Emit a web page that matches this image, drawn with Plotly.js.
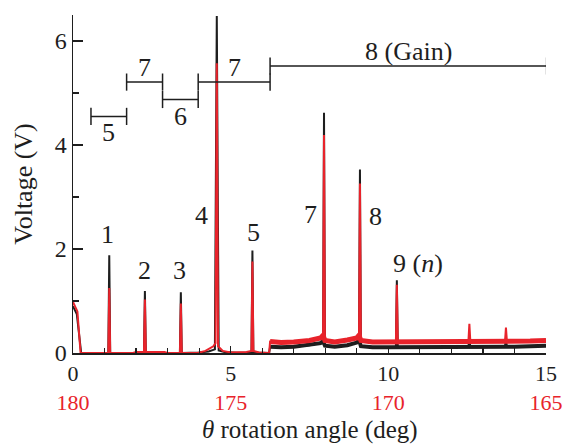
<!DOCTYPE html>
<html>
<head>
<meta charset="utf-8">
<script src="https://cdn.plot.ly/plotly-3.0.1.min.js"></script>
<style>html,body{margin:0;padding:0;background:#fff;}#chart{width:570px;height:445px;}</style>
</head>
<body>
<div id="chart"></div>
<script>
// ---- data ----
// black trace (full profile)
const blackX = [0, 0.12, 0.26, 1.12, 1.15, 1.18, 2.25, 2.28, 2.31, 3.39, 3.42, 3.45, 4.0, 4.3, 4.5, 4.56, 4.62, 4.8, 5.2, 5.66, 5.69, 5.72, 6.22, 6.25,
  6.6, 7.0, 7.5, 7.85, 7.93, 7.96, 7.99, 8.3, 8.7, 9.0, 9.07, 9.10, 9.13, 9.5, 10.0, 10.24, 10.27, 10.30, 11.0, 12.0, 12.54, 12.57, 12.60, 13.0, 13.70, 13.73, 13.76, 14.5, 15.0];
const blackY = [0.9, 0.75, 0.0, 0.0, 1.88, 0.0, 0.0, 1.19, 0.0, 0.0, 1.17, 0.0, 0.01, 0.03, 0.07, 6.48, 0.05, 0.02, 0.005, 0.01, 1.97, 0.01, 0.0, 0.12,
  0.11, 0.12, 0.15, 0.19, 0.23, 4.62, 0.14, 0.12, 0.15, 0.2, 0.25, 3.53, 0.13, 0.11, 0.11, 0.12, 1.40, 0.12, 0.11, 0.11, 0.12, 0.30, 0.11, 0.11, 0.13, 0.28, 0.12, 0.13, 0.15];
// red trace (full profile)
const redX = [0, 0.14, 0.24, 1.12, 1.15, 1.18, 1.9, 2.0, 2.25, 2.28, 2.31, 2.9, 3.0, 3.39, 3.42, 3.45, 3.95, 4.2, 4.45, 4.52, 4.56, 4.6, 4.75, 5.0, 5.5, 5.66, 5.69, 5.72, 5.9, 6.22, 6.25,
  6.6, 7.0, 7.5, 7.85, 7.93, 7.96, 7.99, 8.3, 8.7, 9.0, 9.07, 9.10, 9.13, 9.5, 10.0, 10.24, 10.27, 10.30, 11.0, 12.0, 12.54, 12.57, 12.60, 13.0, 13.70, 13.73, 13.76, 14.5, 15.0];
const redY = [0.98, 0.8, 0.0, 0.0, 1.25, 0.0, 0.0, 0.02, 0.02, 1.03, 0.02, 0.02, 0.0, 0.0, 0.95, 0.0, 0.0, 0.04, 0.13, 0.19, 5.57, 0.13, 0.04, 0.01, 0.02, 0.04, 1.76, 0.04, 0.01, 0.0, 0.22,
  0.2, 0.21, 0.24, 0.3, 0.36, 4.19, 0.24, 0.21, 0.25, 0.3, 0.36, 3.26, 0.24, 0.21, 0.21, 0.22, 1.31, 0.22, 0.21, 0.22, 0.23, 0.56, 0.23, 0.22, 0.23, 0.49, 0.23, 0.23, 0.24];
// noisy baseline bands (centre of the band)
const blackBandX = [6.25, 6.6, 7.0, 7.5, 7.85, 7.93, 7.99, 8.3, 8.7, 9.0, 9.07, 9.13, 9.5, 10.0, 11.0, 12.0, 13.0, 14.0, 14.5, 15.0];
const blackBandY = [0.12, 0.11, 0.12, 0.15, 0.19, 0.23, 0.14, 0.12, 0.15, 0.2, 0.25, 0.13, 0.11, 0.11, 0.11, 0.11, 0.11, 0.12, 0.13, 0.14];
const redBandX = [6.25, 6.6, 7.0, 7.5, 7.85, 7.93, 7.99, 8.3, 8.7, 9.0, 9.07, 9.13, 9.5, 10.0, 11.0, 12.0, 13.0, 14.0, 14.5, 15.0];
const redBandY = [0.22, 0.2, 0.21, 0.24, 0.29, 0.34, 0.24, 0.21, 0.25, 0.29, 0.34, 0.24, 0.21, 0.21, 0.21, 0.22, 0.22, 0.23, 0.23, 0.24];

// peak labels
const peakLabels = ['1', '2', '3', '4', '5', '7', '8', '9 (<i>n</i>)'];
const peakLabelX = [1.1, 2.28, 3.38, 4.09, 5.71, 7.52, 9.58, 10.94];
const peakLabelY = [2.28, 1.59, 1.59, 2.65, 2.32, 2.67, 2.63, 1.72];

// brackets (regions)
const bracketStart = [0.57, 1.70, 2.84, 3.97, 6.25];
const bracketEnd = [1.70, 2.84, 3.97, 6.25, 15.02];
const bracketLevel = [4.55, 5.21, 4.875, 5.21, 5.52];
const bracketLabel = ['5', '7', '6', '7', '8 (Gain)'];
const bracketLabelAbove = [false, true, false, true, true];

// axis ticks
const tickVals = [0, 5, 10, 15];
const tickTop = ['0', '5', '10', '15'];
const tickBottom = ['180', '175', '170', '165'];

// ---- styles ----
const RED = 'rgb(232,35,43)';
const BLACK = 'rgb(30,30,30)';
const FONT = '"Liberation Serif", "Times New Roman", serif';
const capHalf = 0.165;

const traces = [
  {x: blackBandX, y: blackBandY, mode: 'lines', line: {color: BLACK, width: 4}, hoverinfo: 'skip'},
  {x: blackX, y: blackY, mode: 'lines', line: {color: BLACK, width: 2}},
  {x: redBandX, y: redBandY, mode: 'lines', line: {color: RED, width: 5}, hoverinfo: 'skip'},
  {x: redX, y: redY, mode: 'lines', line: {color: RED, width: 2}}
];

const shapes = [];
const annotations = [];
const lineStyle = {color: BLACK, width: 1.5};
for (let i = 0; i < bracketStart.length; i++) {
  const y = bracketLevel[i];
  shapes.push({type: 'line', xref: 'x', yref: 'y', x0: bracketStart[i], x1: bracketEnd[i], y0: y, y1: y, line: lineStyle});
  shapes.push({type: 'line', xref: 'x', yref: 'y', x0: bracketStart[i], x1: bracketStart[i], y0: y - capHalf, y1: y + capHalf, line: lineStyle});
  shapes.push({type: 'line', xref: 'x', yref: 'y', x0: bracketEnd[i], x1: bracketEnd[i], y0: y - capHalf, y1: y + capHalf, line: lineStyle});
  annotations.push({
    x: (bracketStart[i] + bracketEnd[i]) / 2, y: y, xref: 'x', yref: 'y',
    text: bracketLabel[i], showarrow: false,
    yanchor: bracketLabelAbove[i] ? 'bottom' : 'top',
    yshift: bracketLabelAbove[i] ? -2 : 0,
    font: {family: FONT, size: 26, color: BLACK}
  });
}
for (let i = 0; i < peakLabels.length; i++) {
  annotations.push({x: peakLabelX[i], y: peakLabelY[i], xref: 'x', yref: 'y', text: peakLabels[i], showarrow: false,
    font: {family: FONT, size: 26, color: BLACK}});
}
// x-axis title placed below the two-line tick labels
annotations.push({x: 0.5, y: 0, xref: 'paper', yref: 'paper', xanchor: 'center', yanchor: 'middle', yshift: -77,
  text: '<i>θ</i> rotation angle (deg)', showarrow: false, font: {family: FONT, size: 25, color: BLACK}});

const tickText = tickTop.map((t, i) => t + '<br><span style="color:' + RED + '">' + tickBottom[i] + '</span>');

const layout = {
  width: 570, height: 445,
  margin: {l: 73, r: 24, t: 15, b: 92},
  paper_bgcolor: '#fff', plot_bgcolor: '#fff',
  showlegend: false,
  font: {family: FONT, size: 22, color: BLACK},
  xaxis: {
    range: [0, 15], showgrid: false, zeroline: false,
    showline: true, linecolor: BLACK, linewidth: 1.5,
    ticks: 'inside', ticklen: 7, tickwidth: 1.5, tickcolor: BLACK,
    tickvals: tickVals, ticktext: tickText,
    tickfont: {family: FONT, size: 22, color: BLACK},
    minor: {dtick: 1, ticks: 'inside', ticklen: 5, tickwidth: 1.2, tickcolor: BLACK}
  },
  yaxis: {
    range: [0, 6.5], showgrid: false, zeroline: false,
    showline: true, linecolor: BLACK, linewidth: 1.5,
    ticks: 'inside', ticklen: 10, tickwidth: 1.5, tickcolor: BLACK,
    tickvals: [0, 2, 4, 6],
    tickfont: {family: FONT, size: 24, color: BLACK},
    minor: {dtick: 1, ticks: 'inside', ticklen: 6, tickwidth: 1.2, tickcolor: BLACK},
    title: {text: 'Voltage (V)', font: {family: FONT, size: 26, color: BLACK}, standoff: 14}
  },
  shapes: shapes,
  annotations: annotations
};

Plotly.newPlot('chart', traces, layout, {displayModeBar: false, staticPlot: true});
</script>
</body>
</html>
